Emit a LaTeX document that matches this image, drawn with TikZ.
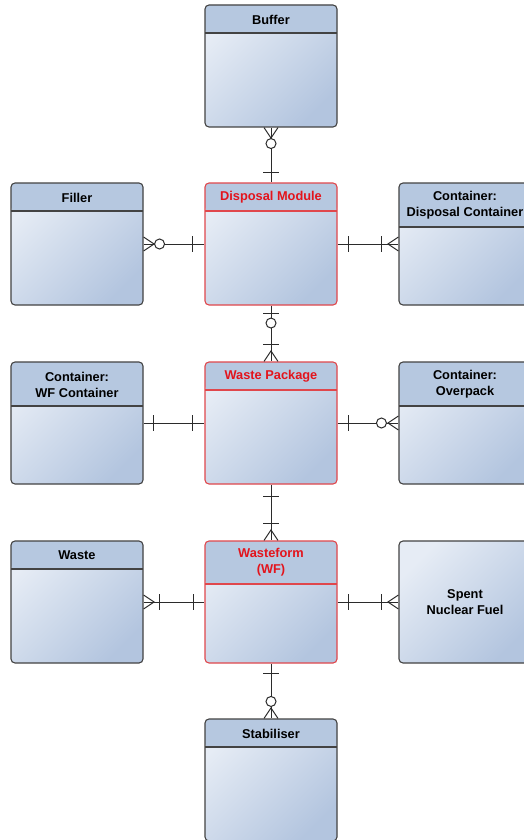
\documentclass[tikz,border=0pt]{standalone}
\usepackage{fontspec}
\setmainfont{Liberation Sans}
\usetikzlibrary{calc}
\definecolor{bord}{HTML}{434343}
\definecolor{redb}{HTML}{E0474C}
\definecolor{redt}{HTML}{E3141C}
\definecolor{hdr}{HTML}{B6C8E0}
\definecolor{bodyA}{HTML}{E6ECF5}
\definecolor{bodyB}{HTML}{B3C5DF}
\definecolor{lnk}{HTML}{2B2B2B}
\tikzset{
  entbase/.style={rounded corners=4pt, minimum width=132pt, minimum height=122pt,
    inner sep=0pt, top color=bodyA, bottom color=bodyB, shading angle=45, line width=1.1pt},
  ent/.style 2 args={entbase, draw=#2,
    path picture={
      \fill[hdr] (path picture bounding box.north west) rectangle
        ([yshift=-#1]path picture bounding box.north east);
      \draw[#2, line width=1.1pt] ([yshift=-#1]path picture bounding box.north west) --
        ([yshift=-#1]path picture bounding box.north east);}},
  plainent/.style={entbase, draw=bord},
  ttl/.style={font=\bfseries\fontsize{12.8}{16}\selectfont, align=center, inner sep=0pt, text=black},
  redttl/.style={ttl, text=redt},
  link/.style={draw=lnk, line width=1pt},
  crow/.pic={\draw[lnk, line width=1pt] (0,-7) -- (10.5,0) -- (0,7);},
  onebar/.pic={\draw[lnk, line width=1pt] (0,-8) -- (0,8);},
  zring/.pic={\draw[lnk, line width=1pt, fill=white] (0,0) circle (5pt);},
}
\begin{document}
\begin{tikzpicture}[x=1pt, y=-1pt]
\useasboundingbox (0,0) rectangle (524,840);
\clip (0,0) rectangle (524,840);
\fill[white] (0,0) rectangle (524,840);

% entities
\node[ent={28pt}{bord}] (buf) at (271,66) {};
\node[ttl] (buf-t) at ($(buf.north)+(0,15)$) {Buffer};

\node[ent={28pt}{bord}] (fil) at (77,244) {};
\node[ttl] (fil-t) at ($(fil.north)+(0,15)$) {Filler};

\node[ent={28pt}{redb}] (dm) at (271,244) {};
\node[redttl] (dm-t) at ($(dm.north)+(0,15)$) {Disposal Module};

\node[ent={44pt}{bord}] (dc) at (465,244) {};
\node[ttl] (dc-t) at ($(dc.north)+(0,23)$) {Container:\\Disposal Container};

\node[ent={44pt}{bord}] (wfc) at (77,423) {};
\node[ttl] (wfc-t) at ($(wfc.north)+(0,23)$) {Container:\\WF Container};

\node[ent={28pt}{redb}] (wp) at (271,423) {};
\node[redttl] (wp-t) at ($(wp.north)+(0,15)$) {Waste Package};

\node[ent={44pt}{bord}] (op) at (465,423) {};
\node[ttl] (op-t) at ($(op.north)+(0,23)$) {Container:\\Overpack};

\node[ent={28pt}{bord}] (wst) at (77,602) {};
\node[ttl] (wst-t) at ($(wst.north)+(0,15)$) {Waste};

\node[ent={43pt}{redb}] (wf) at (271,602) {};
\node[redttl] (wf-t) at ($(wf.north)+(0,22)$) {Wasteform\\(WF)};

\node[plainent] (snf) at (465,602) {};
\node[ttl] (snf-t) at (snf.center) {Spent\\Nuclear Fuel};

\node[ent={28pt}{bord}] (stab) at (271,780) {};
\node[ttl] (stab-t) at ($(stab.north)+(0,15)$) {Stabiliser};

% connectors
\draw[link] (buf.south) -- (dm.north);
\draw[link] (fil.east) -- (dm.west);
\draw[link] (dm.east) -- (dc.west);
\draw[link] (dm.south) -- (wp.north);
\draw[link] (wfc.east) -- (wp.west);
\draw[link] (wp.east) -- (op.west);
\draw[link] (wp.south) -- (wf.north);
\draw[link] (wst.east) -- (wf.west);
\draw[link] (wf.east) -- (snf.west);
\draw[link] (wf.south) -- (stab.north);

% Buffer - Disposal Module
\pic[rotate=-90] at (buf.south) {crow};
\pic at ($(buf.south)+(0,16)$) {zring};
\pic[rotate=90] at ($(dm.north)+(0,-10)$) {onebar};
% Filler - Disposal Module
\pic at (fil.east) {crow};
\pic at ($(fil.east)+(16,0)$) {zring};
\pic at ($(dm.west)+(-12,0)$) {onebar};
% Disposal Module - Disposal Container
\pic at ($(dm.east)+(10.5,0)$) {onebar};
\pic at ($(dc.west)+(-16.5,0)$) {onebar};
\pic[rotate=180] at (dc.west) {crow};
% Disposal Module - Waste Package
\pic[rotate=90] at ($(dm.south)+(0,7.5)$) {onebar};
\pic at ($(dm.south)+(0,17.5)$) {zring};
\pic[rotate=90] at ($(wp.north)+(0,-17)$) {onebar};
\pic[rotate=90] at (wp.north) {crow};
% WF Container - Waste Package
\pic at ($(wfc.east)+(10,0)$) {onebar};
\pic at ($(wp.west)+(-12,0)$) {onebar};
% Waste Package - Overpack
\pic at ($(wp.east)+(10.5,0)$) {onebar};
\pic at ($(op.west)+(-17,0)$) {zring};
\pic[rotate=180] at (op.west) {crow};
% Waste Package - Wasteform
\pic[rotate=90] at ($(wp.south)+(0,12)$) {onebar};
\pic[rotate=90] at ($(wf.north)+(0,-17)$) {onebar};
\pic[rotate=90] at (wf.north) {crow};
% Waste - Wasteform
\pic at (wst.east) {crow};
\pic at ($(wst.east)+(16,0)$) {onebar};
\pic at ($(wf.west)+(-11,0)$) {onebar};
% Wasteform - Spent Nuclear Fuel
\pic at ($(wf.east)+(10.5,0)$) {onebar};
\pic at ($(snf.west)+(-16.5,0)$) {onebar};
\pic[rotate=180] at (snf.west) {crow};
% Wasteform - Stabiliser
\pic[rotate=90] at ($(wf.south)+(0,10)$) {onebar};
\pic at ($(stab.north)+(0,-17)$) {zring};
\pic[rotate=90] at (stab.north) {crow};
\end{tikzpicture}
\end{document}
